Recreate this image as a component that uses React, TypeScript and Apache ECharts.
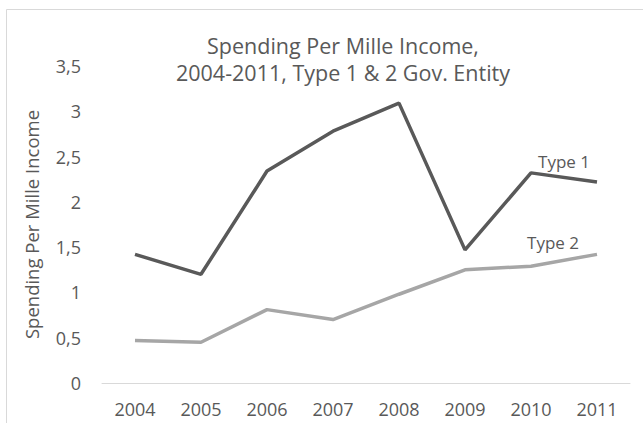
import React, { useEffect, useRef } from "react";
import * as echarts from "echarts";

const years = ["2004", "2005", "2006", "2007", "2008", "2009", "2010", "2011"];
const type1 = [1.42, 1.2, 2.34, 2.78, 3.09, 1.47, 2.32, 2.22];
const type2 = [0.47, 0.45, 0.81, 0.7, 0.98, 1.25, 1.29, 1.42];
const seriesNames = ["Type 1", "Type 2"];
const titleText = "Spending Per Mille Income,\n2004-2011, Type 1 & 2 Gov. Entity";
const yAxisName = "Spending Per Mille Income";

const FONT = "'Open Sans', sans-serif";
const TEXT = "#595959";

export default function App() {
  const ref = useRef<HTMLDivElement>(null);
  useEffect(() => {
    if (!ref.current) return;
    const chart = echarts.init(ref.current, undefined, { renderer: "svg" });
    const lastLabel = (arr: number[], name: string, offset: number[]) =>
      arr.map((v, i) =>
        i === arr.length - 1
          ? {
              value: v,
              label: {
                show: true,
                formatter: name,
                position: "top",
                offset,
                color: TEXT,
                fontFamily: FONT,
                fontSize: 17,
              },
            }
          : v
      );
    chart.setOption({
      animation: false,
      textStyle: { fontFamily: FONT },
      graphic: [
        {
          type: "rect",
          shape: { x: 6.5, y: 9.5, width: 700, height: 500 },
          style: { fill: "none", stroke: "#d9d9d9", lineWidth: 1 },
          silent: true,
        },
      ],
      title: {
        text: titleText,
        left: 338,
        top: 27,
        textAlign: "center",
        textStyle: {
          fontFamily: FONT,
          fontSize: 21.5,
          fontWeight: "normal",
          color: TEXT,
          lineHeight: 27,
        },
      },
      grid: { left: 102, right: 13, top: 66, bottom: 40 },
      xAxis: {
        type: "category",
        data: years,
        boundaryGap: true,
        axisLine: { lineStyle: { color: "#d9d9d9", width: 1 } },
        axisTick: { show: false },
        axisLabel: { color: TEXT, fontFamily: FONT, fontSize: 18, margin: 17 },
      },
      yAxis: {
        type: "value",
        min: 0,
        max: 3.5,
        interval: 0.5,
        name: yAxisName,
        nameLocation: "middle",
        nameGap: 61,
        nameTextStyle: { color: TEXT, fontFamily: FONT, fontSize: 18.5 },
        splitLine: { show: false },
        axisLine: { show: false },
        axisTick: { show: false },
        axisLabel: {
          color: TEXT,
          fontFamily: FONT,
          fontSize: 18,
          margin: 21,
          formatter: (v: number) => String(v).replace(".", ","),
        },
      },
      series: [
        {
          name: seriesNames[0],
          type: "line",
          data: lastLabel(type1, seriesNames[0], [-33, -7]),
          symbol: "circle",
          symbolSize: 0,
          showSymbol: true,
          lineStyle: { color: "#595959", width: 3.5 },
          itemStyle: { color: "#595959" },
        },
        {
          name: seriesNames[1],
          type: "line",
          data: lastLabel(type2, seriesNames[1], [-44, 2]),
          symbol: "circle",
          symbolSize: 0,
          showSymbol: true,
          lineStyle: { color: "#a6a6a6", width: 3.5 },
          itemStyle: { color: "#a6a6a6" },
        },
      ],
    });
    return () => chart.dispose();
  }, []);
  return (
    <div
      ref={ref}
      style={{ position: "fixed", left: 0, top: 0, width: 643, height: 423, background: "#fff" }}
    />
  );
}
